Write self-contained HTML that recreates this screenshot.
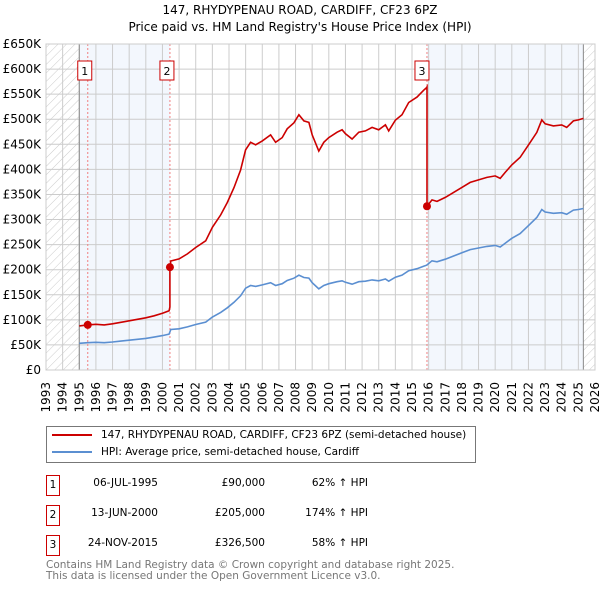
<!DOCTYPE html>
<html><head><meta charset="utf-8"><style>
body{margin:0;background:#fff;font-family:"DejaVu Sans","Liberation Sans",sans-serif;}
#wrap{position:relative;width:600px;height:590px;overflow:hidden;}
.t{position:absolute;white-space:nowrap;color:#000;}
</style></head><body>
<div id="wrap">
<div class="t" style="left:0;width:600px;text-align:center;top:2px;font-size:12px;line-height:17px;">147, RHYDYPENAU ROAD, CARDIFF, CF23 6PZ<br>Price paid vs. HM Land Registry's House Price Index (HPI)</div>
<svg id="chart" width="600" height="420" style="position:absolute;left:0;top:0;font-family:'DejaVu Sans',sans-serif"></svg>
<div style="position:absolute;left:46px;top:426px;width:428px;height:35px;border:1px solid #777;font-size:10.5px;">
 <div style="position:absolute;left:5px;top:2px;white-space:nowrap"><span style="display:inline-block;width:40px;height:2px;background:#cc0000;vertical-align:middle;margin-right:9px"></span>147, RHYDYPENAU ROAD, CARDIFF, CF23 6PZ (semi-detached house)</div>
 <div style="position:absolute;left:5px;top:19px;white-space:nowrap"><span style="display:inline-block;width:40px;height:2px;background:#5b8fd1;vertical-align:middle;margin-right:9px"></span>HPI: Average price, semi-detached house, Cardiff</div>
</div>
<div id="tbl"></div>
<div class="t" style="left:46px;top:560px;font-size:10.5px;line-height:11px;color:#777">Contains HM Land Registry data © Crown copyright and database right 2025.<br>This data is licensed under the Open Government Licence v3.0.</div>
</div>
<script>
const hpiYears=[1995,1995.5,1996,1996.5,1997,1997.5,1998,1998.5,1999,1999.5,2000,2000.4,
2000.5,2001,2001.5,2002,2002.6,2003,2003.5,2003.9,2004.3,2004.7,2005,2005.3,2005.6,2006,2006.5,2006.8,2007.2,2007.5,2007.9,2008.2,2008.5,2008.8,2009,2009.4,2009.7,2010,2010.5,2010.8,2011,2011.4,2011.8,2012.2,2012.6,2013,2013.4,2013.6,2014,2014.4,2014.8,2015.3,2015.7,2015.88,
2016.2,2016.5,2017,2017.5,2018,2018.5,2019,2019.5,2020,2020.3,2020.6,2021,2021.5,2022,2022.5,2022.8,2023,2023.5,2024,2024.3,2024.7,2025,2025.3];
const hpiValues=[53.3,54.5,55.2,54.5,55.8,57.6,59.4,61.2,63,65.5,68.5,71.5,
80.7,82.2,85.9,90.7,95.6,105.6,114.8,124,135,148,163,168.5,166.7,169.6,174,168.5,172,178.5,183,189,184.4,183.3,174,162,168.5,172,176,177.8,174.8,171,176,177,179.6,177.8,181.5,177,185,189,198,202,207,209,
217.7,215.7,220.9,227.3,233.7,240,243.3,246.5,248.4,245.2,252.9,262.5,272,288,304,320,315,312.4,313.7,310.5,318.8,320,322];
const saleLabels=["1","2","3"];
const saleDates=["06-JUL-1995","13-JUN-2000","24-NOV-2015"];
const saleTimes=[1995.51,2000.45,2015.9];
const salePrices=[90000,205000,326500];
const salePct=["62% \u2191 HPI","174% \u2191 HPI","58% \u2191 HPI"];
const yTicks=[0,50,100,150,200,250,300,350,400,450,500,550,600,650];
const xYears=[];for(let y=1993;y<=2026;y++)xYears.push(y);

const X0=46,X1=595,Y0=370,Y1=44;
const xs=t=>X0+(t-1993)/(2026-1993)*(X1-X0);
const ys=v=>Y0-v/650*(Y0-Y1);
const svg=document.getElementById('chart');const NS='http://www.w3.org/2000/svg';
function mk(tag,at,parent){const e=document.createElementNS(NS,tag);for(const k in at)e.setAttribute(k,at[k]);(parent||svg).appendChild(e);return e;}
function hpiAt(t){for(let i=0;i<hpiYears.length-1;i++){if(t<=hpiYears[i+1]){const f=(t-hpiYears[i])/(hpiYears[i+1]-hpiYears[i]);return hpiValues[i]+f*(hpiValues[i+1]-hpiValues[i]);}}return hpiValues[hpiValues.length-1];}

const defs=mk('defs',{});
const pat=mk('pattern',{id:'hatch',width:6,height:6,patternUnits:'userSpaceOnUse',patternTransform:'rotate(45)'},defs);
mk('line',{x1:0,y1:0,x2:0,y2:6,stroke:'#ccc','stroke-width':1},pat);
const first=hpiYears[0],last=hpiYears[hpiYears.length-1];
let e=mk('rect',{x:X0,y:Y1,width:xs(first)-X0,height:Y0-Y1,fill:'url(#hatch)'});

e=mk('rect',{x:xs(last),y:Y1,width:X1-xs(last),height:Y0-Y1,fill:'url(#hatch)'});

e=mk('rect',{x:xs(first),y:Y1,width:xs(saleTimes[1])-xs(first),height:Y0-Y1,fill:'#eef3fc',opacity:0.7});

e=mk('rect',{x:xs(saleTimes[2]),y:Y1,width:xs(last)-xs(saleTimes[2]),height:Y0-Y1,fill:'#eef3fc',opacity:0.7});


const grid=mk('g',{stroke:'#ccc','stroke-width':1});

yTicks.forEach(v=>{mk('line',{x1:X0,x2:X1,y1:ys(v),y2:ys(v)},grid);
 const t=mk('text',{x:41,y:ys(v)+4,'text-anchor':'end','font-size':12,fill:'#000'});t.textContent=v===0?'£0':'£'+v+'K';
 });
xYears.forEach(y=>{mk('line',{x1:xs(y),x2:xs(y),y1:Y1,y2:Y0},grid);
 const t=mk('text',{x:0,y:0,'text-anchor':'end','font-size':12,fill:'#000',transform:`translate(${xs(y)+4},${Y0+12}) rotate(-90)`});t.textContent=y;
 });
mk('line',{x1:xs(first),x2:xs(first),y1:Y1,y2:Y0,stroke:'#888'});
mk('line',{x1:xs(last),x2:xs(last),y1:Y1,y2:Y0,stroke:'#888'});

saleTimes.forEach((t,i)=>{const l=mk('line',{x1:xs(t),x2:xs(t),y1:Y1,y2:Y0,stroke:'#f08080','stroke-dasharray':'2,2'});
 });

let d='';hpiYears.forEach((t,i)=>{d+=(i?'L':'M')+xs(t).toFixed(1)+','+ys(hpiValues[i]).toFixed(1);});
const hl=mk('path',{d,fill:'none',stroke:'#5b8fd1','stroke-width':1.6});


let pd='';
saleTimes.forEach((st,k)=>{const r=salePrices[k]/1000/hpiAt(st);
 const start=k===0?first:st;const end=k<saleTimes.length-1?saleTimes[k+1]:last;
 const pts=[[start,hpiAt(start)]];hpiYears.forEach((t,i)=>{if(t>start&&t<end)pts.push([t,hpiValues[i]]);});pts.push([end,hpiAt(end)]);
 pts.forEach((p,j)=>{pd+=((k===0&&j===0)?'M':'L')+xs(p[0]).toFixed(1)+','+ys(p[1]*r).toFixed(1);});});
const pl=mk('path',{d:pd,fill:'none',stroke:'#cc0000','stroke-width':1.6});


saleTimes.forEach((t,i)=>{const c=mk('circle',{cx:xs(t),cy:ys(salePrices[i]/1000),r:4,fill:'#cc0000'});
 
 const g=mk('g',{});
 const bx=i===2?xs(t)-12:xs(t)-10;
 mk('rect',{x:bx,y:61,width:14,height:19,fill:'#fff',stroke:'#cc0000'},g);
 const tx=mk('text',{x:bx+7,y:75,'text-anchor':'middle','font-size':11,fill:'#000'},g);tx.textContent=saleLabels[i];});
mk('rect',{x:X0,y:Y1,width:X1-X0,height:Y0-Y1,fill:'none',stroke:'#ccc'});

const tbl=document.getElementById('tbl');
const rowY=[475,505,535];
saleLabels.forEach((s,i)=>{
 const row=document.createElement('div');
 
 
 row.style.cssText=`position:absolute;left:0;top:${rowY[i]}px;width:600px;height:20px;font-size:10.5px;line-height:20px;`;
 row.innerHTML=`<div style="position:absolute;left:46px;top:0;width:12px;height:19px;border:1px solid #cc0000;text-align:center;line-height:18px">${s}</div>
 <div style="position:absolute;right:${600-158}px;top:-2px">${saleDates[i]}</div>
 <div style="position:absolute;right:${600-265}px;top:-2px">£${salePrices[i].toLocaleString('en-GB')}</div>
 <div style="position:absolute;right:${600-368}px;top:-2px">${salePct[i]}</div>`;
 tbl.appendChild(row);});
</script>
</body></html>
